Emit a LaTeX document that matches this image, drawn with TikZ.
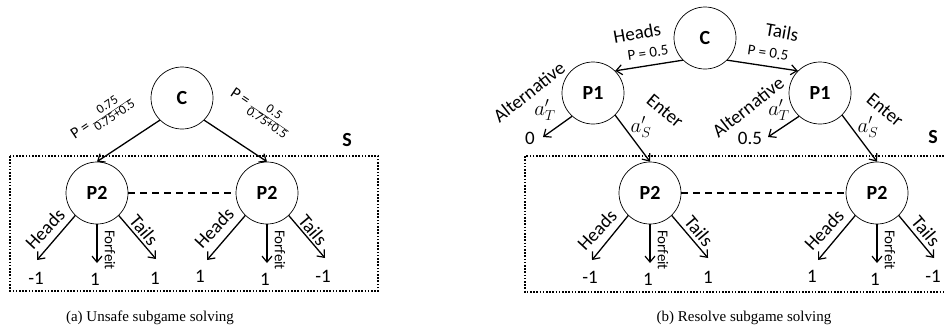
\documentclass[tikz,border=0pt]{standalone}
\usepackage{fontspec}
\setmainfont{Carlito}
\newfontfamily\capfont{Liberation Serif}
\usetikzlibrary{arrows.meta}
\newcommand\myfrac[2]{{\fontsize{13}{13}\selectfont\renewcommand\arraystretch{0.95}\setlength\tabcolsep{0pt}\begin{tabular}{c}#1\\\hline #2\end{tabular}}}
\begin{document}
\begin{tikzpicture}[x=1pt,y=-1pt,
  circ/.style={circle,draw,line width=0.7pt,minimum size=62pt,inner sep=0pt,font=\fontsize{20}{24}\selectfont\bfseries},
  arr/.style={-{Straight Barb[length=6pt,width=10pt,line width=1.2pt]},line width=1.3pt},
  lab/.style={font=\fontsize{19}{22}\selectfont,inner sep=0pt},
  slab/.style={font=\fontsize{15}{18}\selectfont,inner sep=0pt},
  plab/.style={font=\fontsize{16}{18}\selectfont,inner sep=0pt},
  val/.style={font=\fontsize{19}{22}\selectfont,inner sep=0pt},
  mlab/.style={font=\fontsize{21}{24}\selectfont,inner sep=0pt},
  sset/.style={font=\fontsize{20}{24}\selectfont\bfseries,inner sep=0pt},
  dotbox/.style={line width=2.2pt,dash pattern=on 1.6pt off 1.6pt},
  infoset/.style={line width=1.3pt,dash pattern=on 7pt off 5pt},
  captext/.style={font=\capfont\fontsize{15}{18}\selectfont,inner sep=0pt}]
\useasboundingbox (0,0) rectangle (944,333);

% ---------------- (a) ----------------
\draw[dotbox] (10,156) rectangle (378,291);
\node[sset] (Sa) at (347,140) {S};
\node[circ] (C1) at (182,98) {C};
\node[circ] (P2a) at (97,193) {P2};
\node[circ] (P2b) at (267,193) {P2};
\draw[arr] (C1.225) -- (P2a.north);
\draw[arr] (C1.-45) -- (P2b.north);
\node[plab,rotate=34] (pla) at (102,118) {P = \myfrac{0.75}{0.75+0.5}};
\node[plab,rotate=-34] (plb) at (260,112) {P = \myfrac{0.5}{0.75+0.5}};
\draw[infoset] (P2a.east) -- (P2b.west);

% subtree P2a
\coordinate (aH) at (37,260);
\coordinate (aF) at (97,263);
\coordinate (aT) at (156,259);
\draw[arr] (P2a.226) -- (aH);
\draw[arr] (P2a.south) -- (aF);
\draw[arr] (P2a.-46) -- (aT);
\node[lab,rotate=47] (ahl) at (45,229) {Heads};
\node[slab,rotate=-90] (afl) at (110,250) {Forfeit};
\node[lab,rotate=-50] (atl) at (144,230) {Tails};
\node[val] (av1) at (36,278) {-1};
\node[val] (av2) at (95,279) {1};
\node[val] (av3) at (155,278) {1};

% subtree P2b
\coordinate (bH) at (207,260);
\coordinate (bF) at (267,263);
\coordinate (bT) at (325,258);
\draw[arr] (P2b.226) -- (bH);
\draw[arr] (P2b.south) -- (bF);
\draw[arr] (P2b.-46) -- (bT);
\node[lab,rotate=47] (bhl) at (214,228) {Heads};
\node[slab,rotate=-90] (bfl) at (280,250) {Forfeit};
\node[lab,rotate=-50] (btl) at (313,230) {Tails};
\node[val] (bv1) at (200,276) {1};
\node[val] (bv2) at (265,279) {1};
\node[val] (bv3) at (323,276) {-1};

\node[captext] (capa) at (150,318) {(a) Unsafe subgame solving};

% ---------------- (b) ----------------
\draw[dotbox] (960,156) -| (525,292) -- (960,292);
\node[sset] (Sb) at (933,137) {S};
\node[circ] (C2) at (705,38) {C};
\node[circ] (P1a) at (593,93) {P1};
\node[circ] (P1b) at (820,93) {P1};
\node[circ] (P2c) at (650,193) {P2};
\node[circ] (P2d) at (877,193) {P2};
\draw[arr] (C2.225) -- (P1a.45);
\draw[arr] (C2.-45) -- (P1b.135);
\node[lab,rotate=10] (hl) at (637,33) {Heads};
\node[slab,rotate=8] (hp) at (648,53) {P = 0.5};
\node[lab,rotate=-10] (tl) at (782,32) {Tails};
\node[slab,rotate=-8] (tp) at (768,53) {P = 0.5};

% P1a
\coordinate (p1aA) at (543,137);
\draw[arr] (P1a.228) -- (p1aA);
\draw[arr] (P1a.-45) -- (P2c.north);
\node[lab,rotate=38] (alta) at (529,92) {Alternative};
\node[mlab] (ata) at (545,110) {$a'_T$};
\node[val] (v0) at (530,138) {0};
\node[lab,rotate=-40] (enta) at (665,111) {Enter};
\node[mlab] (asa) at (641,127) {$a'_S$};

% P1b
\coordinate (p1bA) at (768,137);
\draw[arr] (P1b.228) -- (p1bA);
\draw[arr] (P1b.-45) -- (P2d.north);
\node[lab,rotate=38] (altb) at (748,107) {Alternative};
\node[mlab] (atb) at (779,110) {$a'_T$};
\node[val] (v05) at (750,138) {0.5};
\node[lab,rotate=-40] (entb) at (885,110) {Enter};
\node[mlab] (asb) at (868,127) {$a'_S$};

\draw[infoset] (P2c.east) -- (P2d.west);

% subtree P2c
\coordinate (cH) at (592,260);
\coordinate (cF) at (650,263);
\coordinate (cT) at (708,258);
\draw[arr] (P2c.226) -- (cH);
\draw[arr] (P2c.south) -- (cF);
\draw[arr] (P2c.-46) -- (cT);
\node[lab,rotate=47] (chl) at (597,230) {Heads};
\node[slab,rotate=-90] (cfl) at (663,250) {Forfeit};
\node[lab,rotate=-50] (ctl) at (699,231) {Tails};
\node[val] (cv1) at (590,277) {-1};
\node[val] (cv2) at (648,279) {1};
\node[val] (cv3) at (708,277) {1};

% subtree P2d
\coordinate (dH) at (818,260);
\coordinate (dF) at (877,263);
\coordinate (dT) at (934,258);
\draw[arr] (P2d.226) -- (dH);
\draw[arr] (P2d.south) -- (dF);
\draw[arr] (P2d.-46) -- (dT);
\node[lab,rotate=47] (dhl) at (824,230) {Heads};
\node[slab,rotate=-90] (dfl) at (890,250) {Forfeit};
\node[lab,rotate=-50] (dtl) at (926,231) {Tails};
\node[val] (dv1) at (812,276) {1};
\node[val] (dv2) at (875,279) {1};
\node[val] (dv3) at (933,276) {-1};

\node[captext] (capb) at (744,318) {(b) Resolve subgame solving};
\end{tikzpicture}
\end{document}
